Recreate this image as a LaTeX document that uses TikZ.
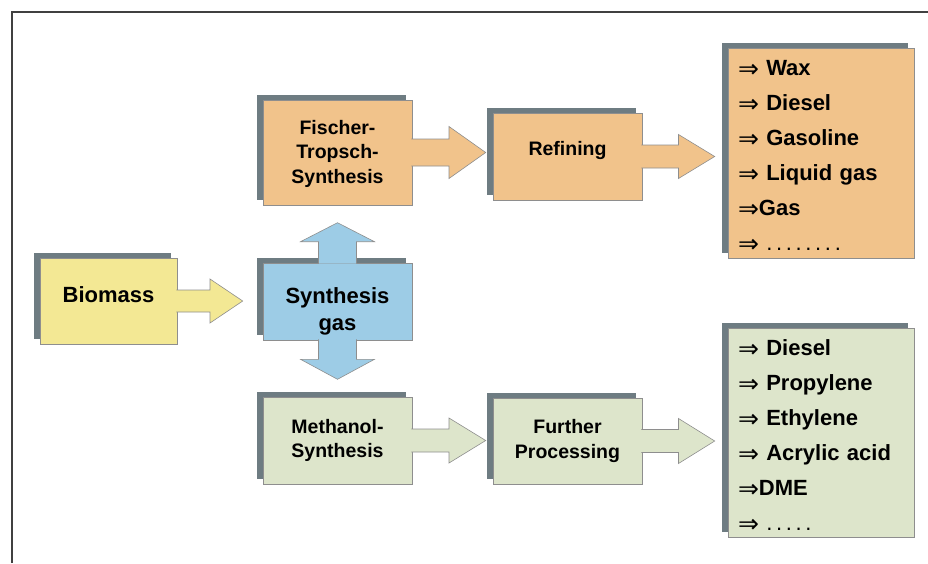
\documentclass[tikz,border=0pt]{standalone}
\usepackage{fontspec}
\setmainfont{Liberation Sans}
\newfontfamily\arrowfont{DejaVu Sans}
\usetikzlibrary{calc,shadows}

\definecolor{ftorange}{HTML}{F1C38B}
\definecolor{bioyellow}{HTML}{F3E894}
\definecolor{synblue}{HTML}{9DCCE6}
\definecolor{methgreen}{HTML}{DDE5CB}
\definecolor{shadowgray}{HTML}{6E7C82}
\definecolor{boxline}{HTML}{8E8E8E}
\definecolor{framegray}{HTML}{404040}

\newcommand{\prodarrow}{\raisebox{-2pt}{\arrowfont\mdseries\fontsize{25}{25}\selectfont ⇒}}

\tikzset{
  procbox/.style={draw=boxline, line width=0.6pt, inner sep=2pt, minimum width=149pt,
    align=center, font=\bfseries\fontsize{19.5}{24.5}\selectfont,
    general shadow={fill=shadowgray, shadow xshift=-6pt, shadow yshift=5pt}},
  bigtext/.style={font=\bfseries\fontsize{22}{27}\selectfont},
  listbox/.style={procbox, align=left, inner xsep=10pt, text width=166pt,
    minimum height=210pt, font=\bfseries\fontsize{22}{35}\selectfont},
  blockarrow/.style={draw=boxline, line width=0.6pt, line join=miter}
}

\begin{document}
\begin{tikzpicture}[x=1pt,y=-1pt]
\useasboundingbox (0,0) rectangle (928,563);
\draw[line width=1.3pt, framegray] (12,563) -- (12,12) -- (928,12);

% process boxes
\node[procbox, bigtext, fill=bioyellow, minimum width=137pt, minimum height=86pt, text depth=12pt] (bio) at (108.5,301) {Biomass};
\node[procbox, bigtext, fill=synblue, minimum height=77pt] (syn) at (337.5,301.5) {\rule{0pt}{36pt}Synthesis\\gas};
\node[procbox, fill=ftorange, minimum height=105pt] (ft) at (337.5,152.5) {\rule{0pt}{17pt}Fischer-\\Tropsch-\\Synthesis};
\node[procbox, fill=ftorange, minimum height=87pt, text depth=17pt] (ref) at (567.5,156.5) {Refining};
\node[procbox, fill=methgreen, minimum height=87pt] (meth) at (337.5,440.5) {Methanol-\\Synthesis};
\node[procbox, fill=methgreen, minimum height=86pt] (fp) at (567.5,441) {Further\\Processing};

% product lists
\node[listbox, fill=ftorange] (outa) at (821,153) {\rule{0pt}{22pt}\prodarrow{} Wax\\ \prodarrow{} Diesel\\ \prodarrow{} Gasoline\\ \prodarrow{} Liquid gas\\ \prodarrow{}Gas\\ \prodarrow{} {\mdseries .\,.\,.\,.\,.\,.\,.\,.}};
\node[listbox, fill=methgreen, minimum height=209pt] (outb) at (821,432.5) {\rule{0pt}{22pt}\prodarrow{} Diesel\\ \prodarrow{} Propylene\\ \prodarrow{} Ethylene\\ \prodarrow{} Acrylic acid\\ \prodarrow{}DME\\ \prodarrow{} {\mdseries .\,.\,.\,.\,.}};

% block arrows
\foreach \a/\b/\g/\w/\h/\c in {bio/syn/13/11/22/bioyellow, ft/ref/0/13.5/26/ftorange,
  ref/outa/6/11.5/22/ftorange, meth/fp/0/11.5/22.5/methgreen, fp/outb/6/11.5/22.5/methgreen}{
  \coordinate (s) at ($(\a.east)+(-1,0)$);
  \coordinate (t) at ($(\a.east -| \b.west)+(-7-\g,0)$);
  \coordinate (m) at ($(\a.east)!.5!(t)$);
  \draw[blockarrow, fill=\c] ($(s)+(0,-\w)$) -- ($(m)+(0,-\w)$) -- ($(m)+(0,-\h)$) -- (t)
    -- ($(m)+(0,\h)$) -- ($(m)+(0,\w)$) -- ($(s)+(0,\w)$);
}
\draw[blockarrow, fill=synblue] ($(syn.north)+(-19,1)$) -- ($(syn.north)+(-19,-21)$) -- ($(syn.north)+(-37,-21)$)
  -- ($(syn.north)+(0,-40)$) -- ($(syn.north)+(37,-21)$) -- ($(syn.north)+(19,-21)$) -- ($(syn.north)+(19,1)$);
\draw[blockarrow, fill=synblue] ($(syn.south)+(-19,-1)$) -- ($(syn.south)+(-19,19)$) -- ($(syn.south)+(-37,19)$)
  -- ($(syn.south)+(0,39)$) -- ($(syn.south)+(37,19)$) -- ($(syn.south)+(19,19)$) -- ($(syn.south)+(19,-1)$);
\end{tikzpicture}
\end{document}
